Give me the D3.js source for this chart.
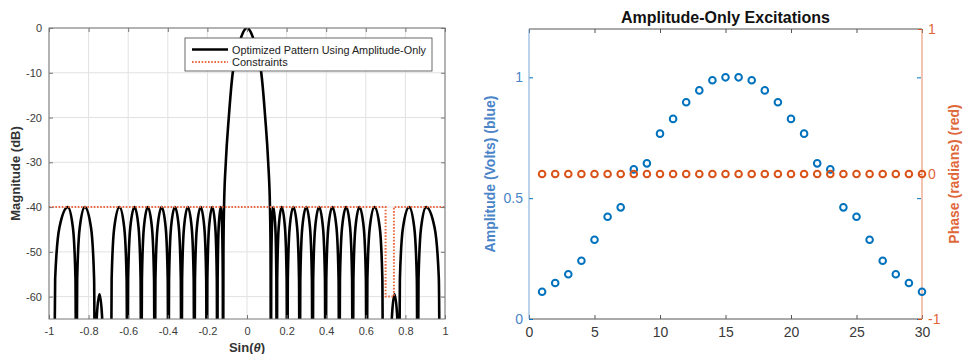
<!DOCTYPE html>
<html>
<head>
<meta charset="utf-8">
<script src="https://cdn.jsdelivr.net/npm/d3@7"></script>
<style>
  body { margin: 0; background: #fff; }
  svg { display: block; font-family: "Liberation Sans", Arial, Helvetica, sans-serif; }
</style>
</head>
<body>
<svg id="chart" width="965" height="354"></svg>
<script>
// ---- data ----
const sinTicks = [-1, -0.8, -0.6, -0.4, -0.2, 0, 0.2, 0.4, 0.6, 0.8, 1];
const magTicks = [0, -10, -20, -30, -40, -50, -60];

// optimized pattern, [sin(theta), dB]
const patternPts = [
  [-1.0, -72],
  [-0.976, -90], [-0.9689, -56], [-0.9476, -44.6], [-0.905, -40], [-0.8792, -44.6], [-0.8663, -56], [-0.862, -90],
  [-0.8577, -56], [-0.8448, -44.6], [-0.819, -40], [-0.7878, -44.6], [-0.7722, -56], [-0.767, -90],
  [-0.7648, -75.5], [-0.7582, -64.1], [-0.745, -59.5], [-0.7324, -64.1], [-0.7261, -75.5], [-0.724, -90],
  [-0.706, -68], [-0.688, -90],
  [-0.6836, -56], [-0.6704, -44.6], [-0.644, -40], [-0.620, -44.6], [-0.608, -56], [-0.604, -90],
  [-0.6004, -56], [-0.5896, -44.6], [-0.568, -40], [-0.5476, -44.6], [-0.5374, -56], [-0.534, -90],
  [-0.5307, -56], [-0.5208, -44.6], [-0.501, -40], [-0.480, -44.6], [-0.4695, -56], [-0.466, -90],
  [-0.4625, -56], [-0.452, -44.6], [-0.431, -40], [-0.4106, -44.6], [-0.4004, -56], [-0.397, -90],
  [-0.3937, -56], [-0.3838, -44.6], [-0.364, -40], [-0.3442, -44.6], [-0.3343, -56], [-0.331, -90],
  [-0.3278, -56], [-0.3182, -44.6], [-0.299, -40], [-0.2792, -44.6], [-0.2693, -56], [-0.266, -90],
  [-0.2628, -56], [-0.2532, -44.6], [-0.234, -40], [-0.2154, -44.6], [-0.2061, -56], [-0.203, -90],
  [-0.2002, -56], [-0.1918, -44.6], [-0.175, -40], [-0.160, -44.6], [-0.1525, -56], [-0.150, -90],
  [-0.1483, -56], [-0.1432, -44.6], [-0.133, -40], [-0.1258, -44.6], [-0.1222, -56], [-0.121, -90],
  [-0.119, -50], [-0.116, -40], [-0.107, -30], [-0.092, -20], [-0.072, -10], [-0.052, -6], [-0.036, -3], [-0.020, -1],
  [0, 0],
  [0.020, -1], [0.036, -3], [0.052, -6], [0.072, -10], [0.092, -20], [0.107, -30], [0.116, -40], [0.119, -50],
  [0.121, -90], [0.1222, -56], [0.1258, -44.6], [0.133, -40], [0.1432, -44.6], [0.1483, -56],
  [0.150, -90], [0.1525, -56], [0.160, -44.6], [0.175, -40], [0.1918, -44.6], [0.2002, -56],
  [0.203, -90], [0.2061, -56], [0.2154, -44.6], [0.234, -40], [0.2532, -44.6], [0.2628, -56],
  [0.266, -90], [0.2693, -56], [0.2792, -44.6], [0.299, -40], [0.3182, -44.6], [0.3278, -56],
  [0.331, -90], [0.3343, -56], [0.3442, -44.6], [0.364, -40], [0.3838, -44.6], [0.3937, -56],
  [0.397, -90], [0.4004, -56], [0.4106, -44.6], [0.431, -40], [0.452, -44.6], [0.4625, -56],
  [0.466, -90], [0.4695, -56], [0.480, -44.6], [0.501, -40], [0.5208, -44.6], [0.5307, -56],
  [0.534, -90], [0.5374, -56], [0.5476, -44.6], [0.568, -40], [0.5896, -44.6], [0.6004, -56],
  [0.604, -90], [0.608, -56], [0.620, -44.6], [0.644, -40], [0.6704, -44.6], [0.6836, -56],
  [0.688, -90], [0.706, -68],
  [0.724, -90], [0.7261, -75.5], [0.7324, -64.1], [0.745, -59.5], [0.7582, -64.1], [0.7648, -75.5],
  [0.767, -90], [0.7722, -56], [0.7878, -44.6], [0.819, -40], [0.8448, -44.6], [0.8577, -56],
  [0.862, -90], [0.8663, -56], [0.8792, -44.6], [0.905, -40], [0.9476, -44.6], [0.9689, -56],
  [0.976, -90],
  [1.0, -72]
];

const constraintPts = [[-1, -40], [0.70, -40], [0.70, -60], [0.742, -60], [0.742, -40], [1, -40]];

const elements = [1, 2, 3, 4, 5, 6, 7, 8, 9, 10, 11, 12, 13, 14, 15, 16, 17, 18, 19, 20, 21, 22, 23, 24, 25, 26, 27, 28, 29, 30];
const amplitude = [0.113, 0.149, 0.185, 0.241, 0.328, 0.423, 0.462, 0.619, 0.644, 0.767, 0.828, 0.897, 0.946, 0.988, 1.0,
                   1.0, 0.988, 0.946, 0.897, 0.828, 0.767, 0.644, 0.619, 0.462, 0.423, 0.328, 0.241, 0.185, 0.149, 0.113];
const phase = [0, 0, 0, 0, 0, 0, 0, 0, 0, 0, 0, 0, 0, 0, 0, 0, 0, 0, 0, 0, 0, 0, 0, 0, 0, 0, 0, 0, 0, 0];

const elemTicks = [0, 5, 10, 15, 20, 25, 30];
const ampTicks = [0, 0.5, 1];
const phaseTicks = [-1, 0, 1];

const blue = '#0072BD';
const orange = '#D95319';
const axisGrey = '#777';
const labelGrey = '#3a3a3a';

const svg = d3.select('#chart');

// ================= left: pattern =================
const L = { left: 49, top: 28, right: 445, bottom: 319 };
const x1 = d3.scaleLinear().domain([-1, 1]).range([L.left, L.right]);
const y1 = d3.scaleLinear().domain([-65, 0]).range([L.bottom, L.top]);

const left = svg.append('g');

// grid
left.append('g').selectAll('line.gx').data(sinTicks).enter().append('line')
    .attr('x1', d => x1(d)).attr('x2', d => x1(d))
    .attr('y1', L.top).attr('y2', L.bottom)
    .attr('stroke', '#e2e2e2').attr('stroke-width', 1);
left.append('g').selectAll('line.gy').data(magTicks).enter().append('line')
    .attr('x1', L.left).attr('x2', L.right)
    .attr('y1', d => y1(d)).attr('y2', d => y1(d))
    .attr('stroke', '#e2e2e2').attr('stroke-width', 1);

svg.append('clipPath').attr('id', 'clipL').append('rect')
    .attr('x', L.left).attr('y', L.top)
    .attr('width', L.right - L.left).attr('height', L.bottom - L.top);

const patLine = d3.line().x(d => x1(d[0])).y(d => y1(d[1])).curve(d3.curveMonotoneX);
left.append('path')
    .attr('clip-path', 'url(#clipL)')
    .attr('d', patLine(patternPts))
    .attr('fill', 'none').attr('stroke', '#000').attr('stroke-width', 2.6)
    .attr('stroke-linejoin', 'round');

const conLine = d3.line().x(d => x1(d[0])).y(d => y1(d[1]));
left.append('path')
    .attr('clip-path', 'url(#clipL)')
    .attr('d', conLine(constraintPts))
    .attr('fill', 'none').attr('stroke', '#EC6A42').attr('stroke-width', 2)
    .attr('stroke-dasharray', '1.6,1.6');

// axes (ticks inside, box on)
const fmt = d => String(d);
const axB = left.append('g').attr('transform', `translate(0,${L.bottom})`)
    .call(d3.axisBottom(x1).tickValues(sinTicks).tickFormat(fmt).tickSizeInner(-4).tickSizeOuter(0).tickPadding(8));
const axT = left.append('g').attr('transform', `translate(0,${L.top})`)
    .call(d3.axisTop(x1).tickValues(sinTicks).tickFormat('').tickSizeInner(-4).tickSizeOuter(0));
const axL = left.append('g').attr('transform', `translate(${L.left},0)`)
    .call(d3.axisLeft(y1).tickValues(magTicks).tickFormat(fmt).tickSizeInner(-4).tickSizeOuter(0).tickPadding(7));
const axR = left.append('g').attr('transform', `translate(${L.right},0)`)
    .call(d3.axisRight(y1).tickValues(magTicks).tickFormat('').tickSizeInner(-4).tickSizeOuter(0));
[axB, axT, axL, axR].forEach(a => {
  a.select('.domain').remove();
  a.selectAll('line').attr('stroke', axisGrey);
  a.selectAll('text').attr('fill', labelGrey).style('font-size', '11px');
});
left.append('rect')
    .attr('x', L.left).attr('y', L.top)
    .attr('width', L.right - L.left).attr('height', L.bottom - L.top)
    .attr('fill', 'none').attr('stroke', axisGrey).attr('stroke-width', 1);

left.append('text')
    .attr('x', x1(0)).attr('y', 352)
    .attr('text-anchor', 'middle')
    .style('font-size', '13px').style('font-weight', 'bold').attr('fill', '#333')
    .html('Sin(<tspan font-style="italic">θ</tspan>)');
left.append('text')
    .attr('transform', `translate(20,${(L.top + L.bottom) / 2}) rotate(-90)`)
    .attr('text-anchor', 'middle')
    .style('font-size', '13px').style('font-weight', 'bold').attr('fill', '#333')
    .text('Magnitude (dB)');

// legend
const lg = left.append('g');
lg.append('rect').attr('x', 185).attr('y', 38).attr('width', 247).attr('height', 33)
    .attr('fill', '#fff').attr('stroke', '#444').attr('stroke-width', 0.8);
lg.append('line').attr('x1', 192).attr('x2', 228).attr('y1', 49.5).attr('y2', 49.5)
    .attr('stroke', '#000').attr('stroke-width', 2.5);
lg.append('line').attr('x1', 192).attr('x2', 228).attr('y1', 62).attr('y2', 62)
    .attr('stroke', '#EC6A42').attr('stroke-width', 2).attr('stroke-dasharray', '1.6,1.6');
lg.append('text').attr('x', 232).attr('y', 53.5).style('font-size', '11px').attr('fill', '#222')
    .attr('textLength', 194).attr('lengthAdjust', 'spacingAndGlyphs')
    .text('Optimized Pattern Using Amplitude-Only');
lg.append('text').attr('x', 232).attr('y', 66).style('font-size', '11px').attr('fill', '#222')
    .text('Constraints');

// ================= right: excitations =================
const R = { left: 529, top: 29, right: 922, bottom: 319 };
const x2 = d3.scaleLinear().domain([0, 30]).range([R.left, R.right]);
const yA = d3.scaleLinear().domain([0, 1.2]).range([R.bottom, R.top]);
const yP = d3.scaleLinear().domain([-1, 1]).range([R.bottom, R.top]);

const right = svg.append('g');

const bx = right.append('g').attr('transform', `translate(0,${R.bottom})`)
    .call(d3.axisBottom(x2).tickValues(elemTicks).tickFormat(fmt).tickSizeInner(-4).tickSizeOuter(0).tickPadding(8));
const tx = right.append('g').attr('transform', `translate(0,${R.top})`)
    .call(d3.axisTop(x2).tickValues(elemTicks).tickFormat('').tickSizeInner(-4).tickSizeOuter(0));
[bx, tx].forEach(a => {
  a.select('.domain').remove();
  a.selectAll('line').attr('stroke', '#555');
  a.selectAll('text').attr('fill', labelGrey).style('font-size', '14px');
});
right.append('line').attr('x1', R.left).attr('x2', R.right).attr('y1', R.bottom).attr('y2', R.bottom)
    .attr('stroke', '#555');
right.append('line').attr('x1', R.left).attr('x2', R.right).attr('y1', R.top).attr('y2', R.top)
    .attr('stroke', '#555');

const la = right.append('g').attr('transform', `translate(${R.left},0)`)
    .call(d3.axisLeft(yA).tickValues(ampTicks).tickFormat(fmt).tickSizeInner(-4).tickSizeOuter(0).tickPadding(6));
const la2 = right.append('g').attr('transform', `translate(${R.right - 1},0)`)
    .call(d3.axisRight(yA).tickValues(ampTicks).tickFormat('').tickSizeInner(-4).tickSizeOuter(0));
[la, la2].forEach(a => {
  a.select('.domain').remove();
  a.selectAll('line').attr('stroke', blue);
  a.selectAll('text').attr('fill', '#4a84c8').style('font-size', '14px');
});
right.append('line').attr('x1', R.left).attr('x2', R.left).attr('y1', R.top).attr('y2', R.bottom)
    .attr('stroke', '#7aa6d6');

const ra = right.append('g').attr('transform', `translate(${R.right},0)`)
    .call(d3.axisRight(yP).tickValues(phaseTicks).tickFormat(fmt).tickSizeInner(-4).tickSizeOuter(0).tickPadding(6));
ra.select('.domain').remove();
ra.selectAll('line').attr('stroke', orange);
ra.selectAll('text').attr('fill', '#e0673a').style('font-size', '14px');
right.append('line').attr('x1', R.right).attr('x2', R.right).attr('y1', R.top).attr('y2', R.bottom)
    .attr('stroke', '#e58a64');

// markers
right.append('g').selectAll('circle').data(elements).enter().append('circle')
    .attr('cx', (d, i) => x2(d)).attr('cy', (d, i) => yA(amplitude[i]))
    .attr('r', 3.3).attr('fill', 'none').attr('stroke', blue).attr('stroke-width', 2);
right.append('g').selectAll('circle').data(elements).enter().append('circle')
    .attr('cx', (d, i) => x2(d)).attr('cy', (d, i) => yP(phase[i]))
    .attr('r', 3.3).attr('fill', 'none').attr('stroke', orange).attr('stroke-width', 2);

// titles
right.append('text')
    .attr('x', (R.left + R.right) / 2).attr('y', 23)
    .attr('text-anchor', 'middle')
    .style('font-size', '16px').style('font-weight', 'bold').attr('fill', '#111')
    .text('Amplitude-Only Excitations');
right.append('text')
    .attr('transform', `translate(495,${(R.top + R.bottom) / 2}) rotate(-90)`)
    .attr('text-anchor', 'middle')
    .style('font-size', '14px').style('font-weight', 'bold').attr('fill', '#4a84c8')
    .text('Amplitude (Volts) (blue)');
right.append('text')
    .attr('transform', `translate(959,${(R.top + R.bottom) / 2}) rotate(-90)`)
    .attr('text-anchor', 'middle')
    .style('font-size', '14px').style('font-weight', 'bold').attr('fill', '#e0673a')
    .text('Phase (radians) (red)');
</script>
</body>
</html>
